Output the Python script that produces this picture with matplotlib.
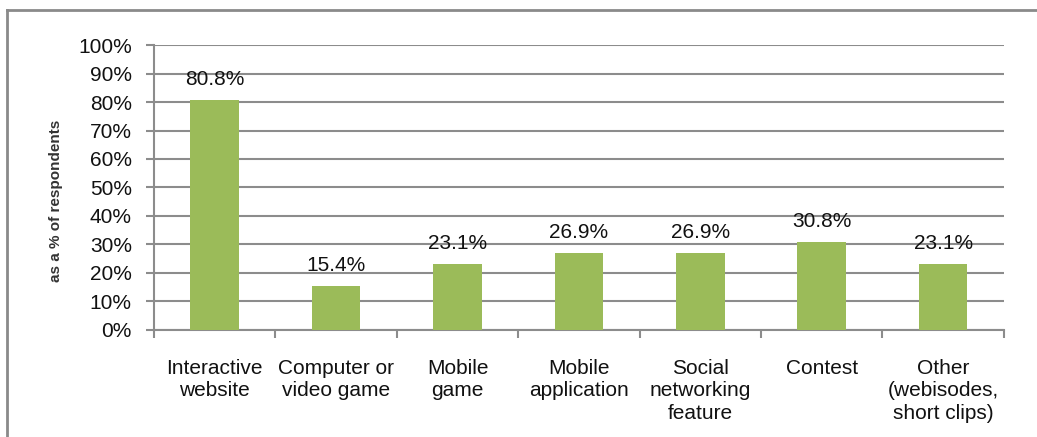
import matplotlib
matplotlib.use("Agg")
import matplotlib.pyplot as plt
from matplotlib.lines import Line2D
from matplotlib.ticker import FixedLocator, PercentFormatter

categories = [
    "Interactive\nwebsite",
    "Computer or\nvideo game",
    "Mobile\ngame",
    "Mobile\napplication",
    "Social\nnetworking\nfeature",
    "Contest",
    "Other\n(webisodes,\nshort clips)",
]
values = [80.8, 15.4, 23.1, 26.9, 26.9, 30.8, 23.1]
yticks = [0, 10, 20, 30, 40, 50, 60, 70, 80, 90, 100]

plt.rcParams["font.family"] = ["Liberation Sans", "DejaVu Sans"]

GRID = "#8c8c8c"
BAR = "#9bbb59"
TEXT = "#111111"

fig = plt.figure(figsize=(10.37, 4.37), dpi=100)
ax = fig.add_axes([0.1485, 0.2449, 0.8195, 0.6521])

x = list(range(len(categories)))
ax.bar(x, values, width=0.4, color=BAR, zorder=3)

for xi, v in zip(x, values):
    ax.annotate(f"{v:.1f}%", (xi, v), xytext=(0, 8), textcoords="offset points",
                ha="center", va="bottom", fontsize=15, color=TEXT)

ax.set_xlim(-0.5, len(categories) - 0.5)
ax.set_ylim(0, 100)
ax.set_yticks(yticks)
ax.yaxis.set_major_formatter(PercentFormatter(decimals=0))
ax.yaxis.grid(True, color=GRID, linewidth=1.5, zorder=0)

ax.set_xticks(x)
ax.set_xticklabels(categories, fontsize=15, linespacing=1.22, color=TEXT)
ax.xaxis.set_minor_locator(FixedLocator([i - 0.5 for i in range(len(categories) + 1)]))
ax.tick_params(axis="x", which="major", length=0, pad=21)
ax.tick_params(axis="x", which="minor", length=6, width=1.5, color=GRID)
ax.tick_params(axis="y", length=6, width=1.5, color=GRID, labelsize=15,
               labelcolor=TEXT, pad=10)

for side in ("top", "right"):
    ax.spines[side].set_visible(False)
for side in ("left", "bottom"):
    ax.spines[side].set_color(GRID)
    ax.spines[side].set_linewidth(1.5)

ax.set_ylabel("as a % of respondents", fontsize=11, fontweight="bold",
              color="#333333")
ax.yaxis.set_label_coords(-0.107, 0.453)

# Outer frame around the chart area (top and left edges)
fig.add_artist(Line2D([0.00675, 1.0], [0.977, 0.977], transform=fig.transFigure,
                      color="#8a8a8a", linewidth=2))
fig.add_artist(Line2D([0.00675, 0.00675], [0.0, 0.977], transform=fig.transFigure,
                      color="#8a8a8a", linewidth=2))

fig.savefig("out.png", dpi=100)
